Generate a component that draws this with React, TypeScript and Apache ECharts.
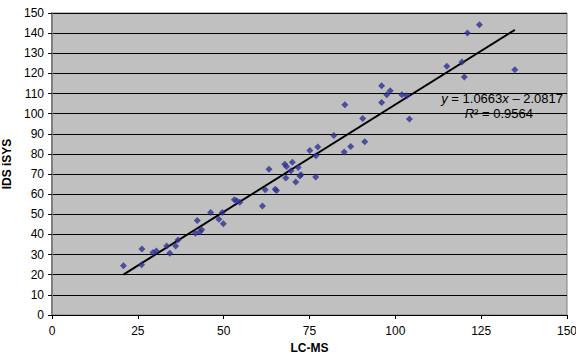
import React, { useEffect, useRef } from "react";
import * as echarts from "echarts";

const xValues = [20.8, 26.2, 26.1, 29.4, 30.4, 33.4, 34.3, 36.0, 36.7, 42.3, 41.8, 43.1, 43.6, 46.2, 48.6, 49.6, 49.9, 53.1, 53.8, 54.7, 61.3, 62.1, 63.2, 65.0, 65.4, 67.8, 68.3, 68.1, 70.0, 69.6, 71.7, 71.0, 72.2, 72.5, 75.1, 76.9, 77.4, 76.8, 82.1, 85.1, 87.0, 85.3, 90.5, 91.1, 96.0, 96.0, 97.5, 98.5, 101.9, 103.3, 104.1, 115.0, 119.4, 120.1, 121.0, 124.5, 134.8];
const yValues = [24.4, 32.8, 24.9, 31.0, 31.8, 34.3, 30.7, 34.3, 37.3, 46.9, 40.6, 41.4, 42.3, 50.9, 47.5, 50.9, 45.3, 57.2, 56.8, 56.0, 54.2, 62.2, 72.4, 62.5, 61.8, 74.9, 73.7, 68.0, 75.9, 71.6, 73.2, 66.0, 69.1, 69.6, 81.7, 79.1, 83.4, 68.5, 89.2, 80.9, 83.7, 104.4, 97.6, 86.0, 113.9, 105.6, 109.4, 111.4, 109.4, 108.9, 97.3, 123.5, 125.7, 118.2, 140.1, 144.2, 121.8];

const slope = 1.0663;
const intercept = -2.0817;
const r2 = 0.9564;

export default function App() {
  const ref = useRef<HTMLDivElement>(null);
  useEffect(() => {
    if (!ref.current) return;
    const chart = echarts.init(ref.current, null, { renderer: "svg" });
    const points = xValues.map((x, i) => [x, yValues[i]]);
    const xMin = Math.min(...xValues);
    const xMax = Math.max(...xValues);
    const trend = [
      [xMin, slope * xMin + intercept],
      [xMax, slope * xMax + intercept],
    ];
    const font = "Liberation Sans, Arial, sans-serif";
    chart.setOption({
      animation: false,
      backgroundColor: "#ffffff",
      grid: {
        left: 52,
        right: 9,
        top: 13,
        bottom: 41,
        containLabel: false,
        outerBoundsMode: "none",
        show: true,
        backgroundColor: "#C0C0C0",
        borderColor: "#808080",
        borderWidth: 1,
      },
      xAxis: {
        type: "value",
        min: 0,
        max: 150,
        interval: 25,
        name: "LC-MS",
        nameLocation: "middle",
        nameGap: 27,
        nameTextStyle: { fontFamily: font, fontWeight: "bold", fontSize: 12, color: "#000" },
        axisLine: { show: true, onZero: false, lineStyle: { color: "#000", width: 1 } },
        axisTick: { show: true, length: 4, lineStyle: { color: "#000" } },
        axisLabel: { fontFamily: font, fontSize: 12, color: "#000", margin: 10 },
        splitLine: { show: false },
      },
      yAxis: {
        type: "value",
        min: 0,
        max: 150,
        interval: 10,
        name: "IDS iSYS",
        nameLocation: "middle",
        nameGap: 30,
        nameRotate: 90,
        nameTextStyle: { fontFamily: font, fontWeight: "bold", fontSize: 12, color: "#000" },
        axisLine: { show: true, onZero: false, lineStyle: { color: "#808080", width: 2 } },
        axisTick: { show: true, length: 4, lineStyle: { color: "#000" } },
        axisLabel: { fontFamily: font, fontSize: 12, color: "#000", margin: 8 },
        splitLine: { show: true, lineStyle: { color: "#000", width: 1 } },
      },
      series: [
        {
          type: "scatter",
          data: points,
          symbol: "diamond",
          symbolSize: 7,
          itemStyle: { color: "#2E3192" },
          z: 3,
        },
        {
          type: "line",
          data: trend,
          symbol: "none",
          lineStyle: { color: "#000", width: 2 },
          z: 2,
        },
      ],
      graphic: [
        {
          type: "text",
          x: 563,
          y: 98,
          style: {
            text: `{i|y} = ${slope.toFixed(4)}{i|x} – ${Math.abs(intercept).toFixed(4)}`,
            font: `13px ${font}`,
            fill: "#000",
            align: "right",
            verticalAlign: "middle",
            rich: { i: { fontStyle: "italic", fontSize: 13, fontFamily: font } },
          },
          z: 10,
        },
        {
          type: "text",
          x: 533,
          y: 113,
          style: {
            text: `{i|R}² = ${r2.toFixed(4)}`,
            font: `13px ${font}`,
            fill: "#000",
            align: "right",
            verticalAlign: "middle",
            rich: { i: { fontStyle: "italic", fontSize: 13, fontFamily: font } },
          },
          z: 10,
        },
      ],
    });
    return () => chart.dispose();
  }, []);
  return <div ref={ref} style={{ width: 576, height: 356, position: "absolute", left: 0, top: 0 }} />;
}
